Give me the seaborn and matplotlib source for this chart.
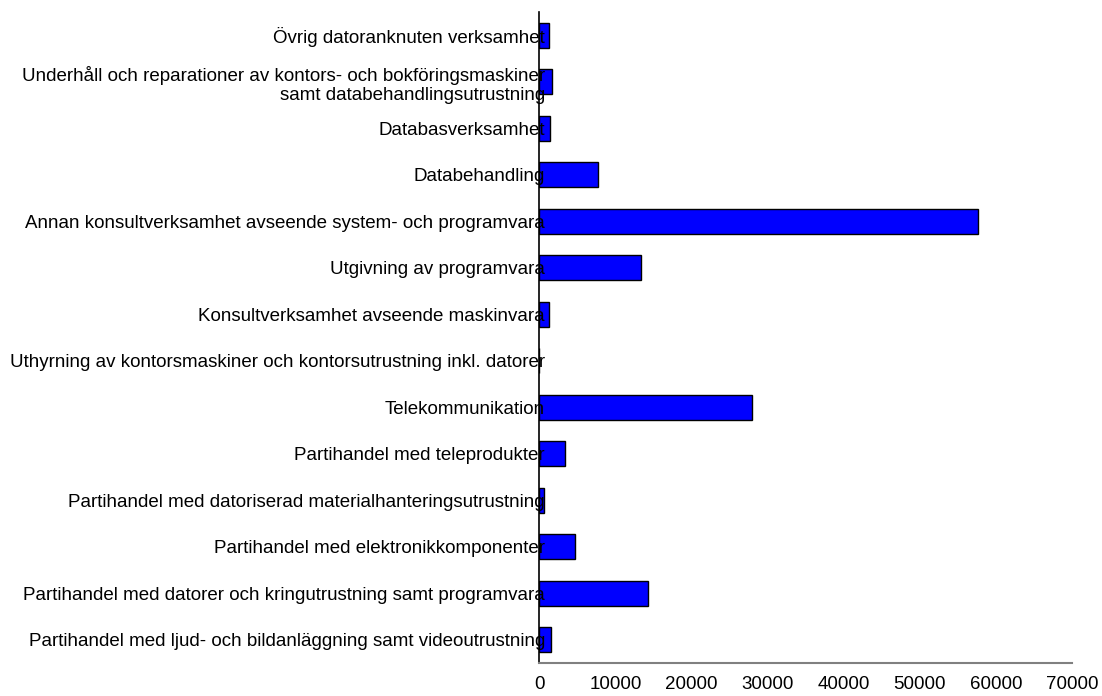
import matplotlib
matplotlib.use("Agg")
import matplotlib.pyplot as plt
import pandas as pd
import seaborn as sns

# Categories listed top to bottom as in the chart
categories = [
    "Övrig datoranknuten verksamhet",
    "Underhåll och reparationer av kontors- och bokföringsmaskiner\nsamt databehandlingsutrustning",
    "Databasverksamhet",
    "Databehandling",
    "Annan konsultverksamhet avseende system- och programvara",
    "Utgivning av programvara",
    "Konsultverksamhet avseende maskinvara",
    "Uthyrning av kontorsmaskiner och kontorsutrustning inkl. datorer",
    "Telekommunikation",
    "Partihandel med teleprodukter",
    "Partihandel med datoriserad materialhanteringsutrustning",
    "Partihandel med elektronikkomponenter",
    "Partihandel med datorer och kringutrustning samt programvara",
    "Partihandel med ljud- och bildanläggning samt videoutrustning",
]
values = [1300, 1700, 1450, 7650, 57700, 13400, 1300, 0, 27950, 3350, 630, 4680, 14250, 1500]
x_ticks = [0, 10000, 20000, 30000, 40000, 50000, 60000, 70000]

df = pd.DataFrame({"category": categories, "value": values})

sns.set_theme(style="white")
plt.rcParams["font.family"] = ["Liberation Sans", "DejaVu Sans"]

fig, ax = plt.subplots(figsize=(11.02, 6.96), dpi=100)
fig.subplots_adjust(left=0.4895, right=0.9728, top=0.983, bottom=0.0474)

sns.barplot(
    data=df,
    x="value",
    y="category",
    orient="h",
    color="#0000ff",
    saturation=1,
    edgecolor="black",
    linewidth=1,
    width=0.54,
    ax=ax,
)

ax.set_xlim(0, 70000)
ax.set_ylim(len(categories) - 0.5, -0.5)
ax.set_xticks(x_ticks)
ax.set_xticklabels([str(t) for t in x_ticks])
ax.set_xlabel("")
ax.set_ylabel("")

# labels are drawn on top of the bars, like in the original
ax.set_axisbelow(False)

ax.tick_params(axis="y", length=0, pad=-4, labelsize=13.5, labelcolor="black")
ax.tick_params(axis="x", length=5, width=1.2, color="#808080",
               direction="out", pad=4, labelsize=13.5, labelcolor="black")

sns.despine(ax=ax, top=True, right=True)
ax.spines["left"].set_color("black")
ax.spines["left"].set_linewidth(1.2)
ax.spines["bottom"].set_color("#808080")
ax.spines["bottom"].set_linewidth(1.5)
ax.grid(False)

plt.savefig("out.png", dpi=100)
plt.close()
